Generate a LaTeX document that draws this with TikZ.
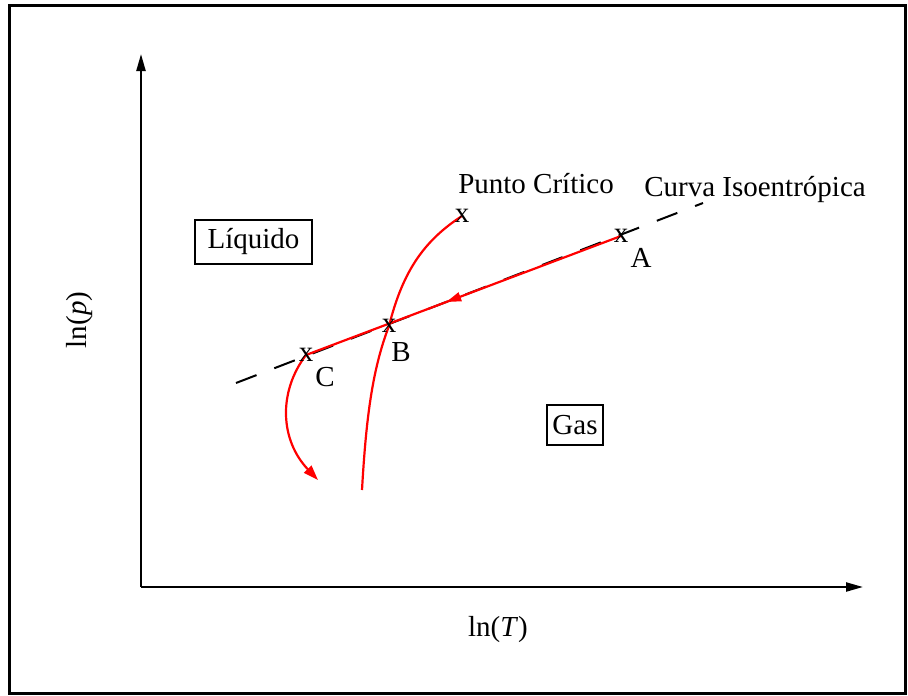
\documentclass[tikz,border=0pt]{standalone}
\usepackage{fontspec}
\setmainfont{Liberation Serif}
\usetikzlibrary{arrows.meta,decorations.markings}
\begin{document}
\begin{tikzpicture}[x=1pt,y=-1pt,
  lbl/.style={font=\fontsize{29}{34}\selectfont, inner sep=0pt},
  xmark/.style={font=\fontsize{29}{34}\selectfont, inner sep=0pt},
  boxed/.style={draw, line width=1.2pt, font=\fontsize{29}{34}\selectfont, inner sep=0pt, minimum height=44pt},
  axis/.style={line width=2.2pt, -{Triangle[length=17pt,width=9pt]}},
  redline/.style={red, line width=2.2pt},
  isoline/.style={line width=2pt, dash pattern=on 22pt off 19pt}]
\useasboundingbox (0,0) rectangle (908,696);
\draw[line width=3pt] (9.5,5.5) rectangle (905,693);
% axes
\coordinate (O) at (141,587);
\coordinate (Ytop) at (141,54);
\coordinate (Xend) at (863,587);
\draw[axis] (O) -- (Ytop);
\draw[axis] (O) -- (Xend);
\node[lbl, rotate=90] (ylab) at (80,320) {ln(\textit{p})};
\node[lbl] (xlab) at (498,630) {ln(\textit{T})};
% regions
\node[boxed, minimum width=117pt] (liq) at (253.5,242) {Líquido};
\node[boxed, minimum width=56pt, minimum height=40pt] (gas) at (575,425) {Gas};
% isentrope
\coordinate (I1) at (236,383);
\coordinate (I2) at (703,203);
\draw[isoline] (I1) -- (I2);
\node[lbl] at (755,190) (curva) {Curva Isoentrópica};
% points
\coordinate (A) at (621,236);
\coordinate (B) at (389,326);
\coordinate (C) at (306,355);
\coordinate (K) at (462,216);
% red path A -> C
\draw[redline, postaction={decorate}, decoration={markings, mark=at position 0.555 with {\arrow{Triangle[length=15pt,width=9pt]}}}] (A) -- (C);
% red curve from C
\coordinate (Cend) at (318,480);
\draw[redline, -{Triangle[length=15pt,width=10pt]}] (C) .. controls (278,392) and (280,440) .. (Cend);
% saturation curve
\coordinate (S0) at (362,490);
\draw[redline] (S0) .. controls (366,420) and (372,370) .. (B) .. controls (403,270) and (425,240) .. (K);
% markers
\node[xmark] (mA) at (A) {x};
\node[xmark] (mB) at (B) {x};
\node[xmark] (mC) at (C) {x};
\node[xmark] (mK) at (K) {x};
\node[lbl] (lA) at (641,258) {A};
\node[lbl] (lB) at (401,352) {B};
\node[lbl] (lC) at (325,377) {C};
\node[lbl] (lK) at (536,184) {Punto Crítico};
\end{tikzpicture}
\end{document}
